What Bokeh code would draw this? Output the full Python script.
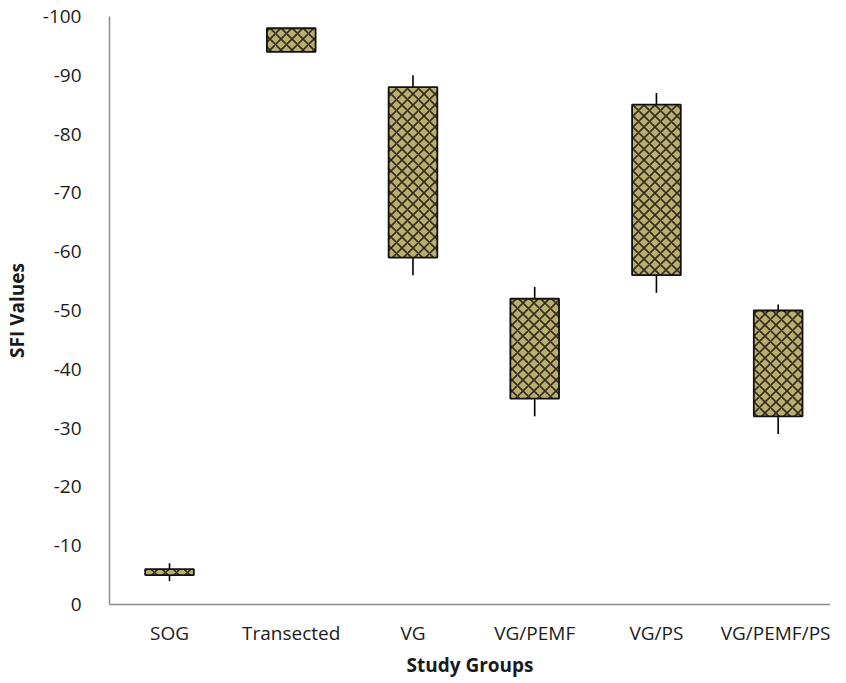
from bokeh.plotting import figure
from bokeh.models import Range1d, FixedTicker, ColumnDataSource
from bokeh.embed import file_html
from bokeh.resources import INLINE

# Data (SFI values)
groups = ["SOG", "Transected", "VG", "VG/PEMF", "VG/PS", "VG/PEMF/PS"]
whisker_low = [-4, -94, -56, -32, -53, -29]
box_low = [-5, -94, -59, -35, -56, -32]
box_high = [-6, -98, -88, -52, -85, -50]
whisker_high = [-7, -98, -90, -54, -87, -51]
y_ticks = [0, -10, -20, -30, -40, -50, -60, -70, -80, -90, -100]
y_tick_labels = ["0", "-10", "-20", "-30", "-40", "-50", "-60", "-70", "-80", "-90", "-100"]

xpos = [i + 1 for i in range(len(groups))]
src = ColumnDataSource(dict(x=xpos, wl=whisker_low, bl=box_low,
                            bh=box_high, wh=whisker_high))

p = figure(width=830, height=680, output_backend="svg", toolbar_location=None,
           x_range=Range1d(0.507, 6.43), y_range=Range1d(0, -100),
           min_border_left=97, min_border_right=0, min_border_top=16,
           min_border_bottom=70)
p.outline_line_color = None
p.xgrid.visible = False
p.ygrid.visible = False

# whiskers
p.segment(x0="x", y0="wl", x1="x", y1="bl", source=src, line_color="black", line_width=1.6)
p.segment(x0="x", y0="bh", x1="x", y1="wh", source=src, line_color="black", line_width=1.6)
# boxes
p.vbar(x="x", bottom="bl", top="bh", width=0.4, source=src,
       fill_color="#b8ae6e", line_color="#111111", line_width=1.8,
       hatch_pattern="diagonal_cross", hatch_color="#332a1c",
       hatch_scale=11, hatch_weight=1.6)

font = "Open Sans"
p.xaxis.ticker = FixedTicker(ticks=xpos)
p.xaxis.major_label_overrides = {x: g for x, g in zip(xpos, groups)}
p.yaxis.ticker = FixedTicker(ticks=y_ticks)
p.yaxis.major_label_overrides = {t: s for t, s in zip(y_ticks, y_tick_labels)}
for ax in (p.xaxis, p.yaxis):
    ax.axis_line_color = "#8a8a8a"
    ax.axis_line_width = 1.5
    ax.major_tick_line_color = None
    ax.minor_tick_line_color = None
    ax.major_label_text_font = font
    ax.major_label_text_font_size = "19px"
    ax.major_label_text_color = "#1a1a1a"
    ax.axis_label_text_font = font
    ax.axis_label_text_font_size = "19px"
    ax.axis_label_text_font_style = "bold"
    ax.axis_label_text_color = "#1a1a1a"

p.xaxis.axis_label = "Study Groups"
p.yaxis.axis_label = "SFI Values"
p.xaxis.major_label_standoff = 9
p.xaxis.axis_label_standoff = 3
p.yaxis.major_label_standoff = 22
p.yaxis.axis_label_standoff = 10

open("out.html", "w").write(file_html(p, INLINE))
